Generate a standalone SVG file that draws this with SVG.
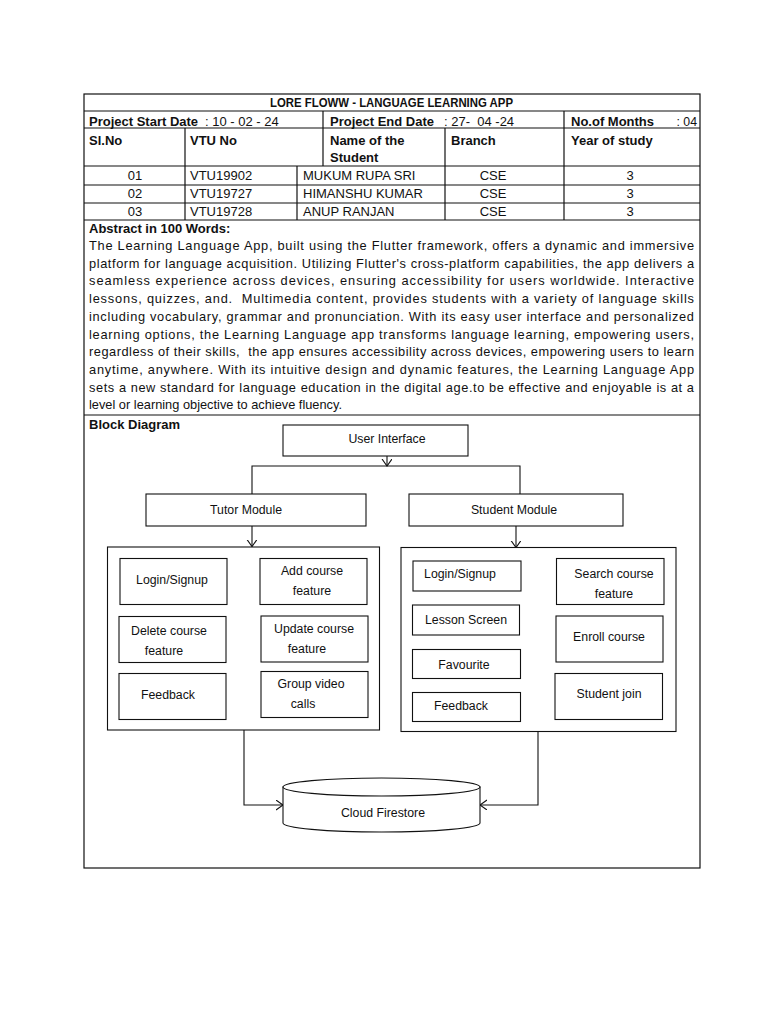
<svg xmlns="http://www.w3.org/2000/svg" width="768" height="1024" viewBox="0 0 768 1024">
<style>
text{font-family:"Liberation Sans",Arial,sans-serif;font-size:13px;fill:#111}
.b{font-weight:bold}
.c{text-anchor:middle}
.ab{font-size:12.8px}
.d{font-size:12.3px}
.tl{stroke:#111;stroke-width:1.2;fill:none}
.bx{stroke:#111;stroke-width:1.1;fill:#fff}
.cn{stroke:#111;stroke-width:1.1;fill:none}
</style>
<defs>
<marker id="ah" markerUnits="userSpaceOnUse" markerWidth="12" markerHeight="12" refX="7" refY="5" orient="auto">
<path d="M0,0 L7,5 L0,10" fill="none" stroke="#111" stroke-width="1.1"/>
</marker>
</defs>
<rect width="768" height="1024" fill="#fff"/>
<g id="table">
<rect class="tl" x="84" y="94" width="616" height="774"/>
<line class="tl" x1="84" y1="111" x2="700" y2="111"/>
<line class="tl" x1="84" y1="128" x2="700" y2="128"/>
<line class="tl" x1="84" y1="166" x2="700" y2="166"/>
<line class="tl" x1="84" y1="185" x2="700" y2="185"/>
<line class="tl" x1="84" y1="203" x2="700" y2="203"/>
<line class="tl" x1="84" y1="220" x2="700" y2="220"/>
<line class="tl" x1="84" y1="415" x2="700" y2="415"/>
<line class="tl" x1="323" y1="111" x2="323" y2="166"/>
<line class="tl" x1="564" y1="111" x2="564" y2="220"/>
<line class="tl" x1="185" y1="128" x2="185" y2="220"/>
<line class="tl" x1="445" y1="128" x2="445" y2="220"/>
<line class="tl" x1="297" y1="166" x2="297" y2="220"/>
<text class="b" x="270" y="106.5" textLength="243" lengthAdjust="spacingAndGlyphs">LORE FLOWW - LANGUAGE LEARNING APP</text>
<text x="89" y="125.5"><tspan class="b">Project Start Date</tspan><tspan x="205">: 10 - 02 - 24</tspan></text>
<text x="330" y="125.5" xml:space="preserve"><tspan class="b">Project End Date</tspan><tspan x="444">: 27-  04 -24</tspan></text>
<text class="b" x="571" y="125.5">No.of Months</text>
<text x="697" y="125.5" style="text-anchor:end;font-size:12.3px">: 04</text>
<text class="b" x="89" y="144.5">Sl.No</text>
<text class="b" x="190" y="144.5">VTU No</text>
<text class="b" x="330" y="144.5">Name of the</text>
<text class="b" x="330" y="162">Student</text>
<text class="b" x="451" y="144.5">Branch</text>
<text class="b" x="571" y="144.5">Year of study</text>
<text class="c" x="135" y="180">01</text>
<text x="190" y="180">VTU19902</text>
<text x="303" y="180">MUKUM RUPA SRI</text>
<text class="c" x="493" y="180">CSE</text>
<text class="c" x="630" y="180">3</text>
<text class="c" x="135" y="198">02</text>
<text x="190" y="198">VTU19727</text>
<text x="303" y="198">HIMANSHU KUMAR</text>
<text class="c" x="493" y="198">CSE</text>
<text class="c" x="630" y="198">3</text>
<text class="c" x="135" y="216">03</text>
<text x="190" y="216">VTU19728</text>
<text x="303" y="216">ANUP RANJAN</text>
<text class="c" x="493" y="216">CSE</text>
<text class="c" x="630" y="216">3</text>
<text class="b" x="89" y="233">Abstract in 100 Words:</text>
<text class="ab" x="89" y="250" textLength="605" lengthAdjust="spacing">The Learning Language App, built using the Flutter framework, offers a dynamic and immersive</text>
<text class="ab" x="89" y="267.7" textLength="605" lengthAdjust="spacing">platform for language acquisition. Utilizing Flutter's cross-platform capabilities, the app delivers a</text>
<text class="ab" x="89" y="285.4" textLength="605" lengthAdjust="spacing">seamless experience across devices, ensuring accessibility for users worldwide. Interactive</text>
<text class="ab" x="89" y="303.1" textLength="605" lengthAdjust="spacing" xml:space="preserve">lessons, quizzes, and.  Multimedia content, provides students with a variety of language skills</text>
<text class="ab" x="89" y="320.8" textLength="605" lengthAdjust="spacing">including vocabulary, grammar and pronunciation. With its easy user interface and personalized</text>
<text class="ab" x="89" y="338.5" textLength="605" lengthAdjust="spacing">learning options, the Learning Language app transforms language learning, empowering users,</text>
<text class="ab" x="89" y="356.2" textLength="605" lengthAdjust="spacing" xml:space="preserve">regardless of their skills,  the app ensures accessibility across devices, empowering users to learn</text>
<text class="ab" x="89" y="373.9" textLength="605" lengthAdjust="spacing">anytime, anywhere. With its intuitive design and dynamic features, the Learning Language App</text>
<text class="ab" x="89" y="391.6" textLength="605" lengthAdjust="spacing">sets a new standard for language education in the digital age.to be effective and enjoyable is at a</text>
<text class="ab" x="89" y="409.3">level or learning objective to achieve fluency.</text>
<text class="b" x="89" y="429">Block Diagram</text>
</g>
<g id="connectors">
<line class="cn" x1="387" y1="456" x2="387" y2="466" marker-end="url(#ah)"/>
<polyline class="cn" points="252,494 252,466 520,466 520,494"/>
<line class="cn" x1="252" y1="526" x2="252" y2="546.5" marker-end="url(#ah)"/>
<line class="cn" x1="516" y1="526" x2="516" y2="547.5" marker-end="url(#ah)"/>
<polyline class="cn" points="244,730 244,805 283,805" marker-end="url(#ah)"/>
<polyline class="cn" points="538,732 538,805 480,805" marker-end="url(#ah)"/>
</g>
<g id="user-interface"><rect class="bx" x="283" y="425" width="185" height="31"/><text class="c d" x="387" y="442.5">User Interface</text></g>
<g id="tutor-module"><rect class="bx" x="146" y="494" width="220" height="32"/><text class="c d" x="246" y="514">Tutor Module</text></g>
<g id="student-module"><rect class="bx" x="409" y="494" width="214" height="32"/><text class="c d" x="514" y="514">Student Module</text></g>
<g id="tutor-container"><rect class="bx" x="107.5" y="547" width="272" height="183"/></g>
<g id="student-container"><rect class="bx" x="401" y="547.5" width="275" height="184"/></g>
<g id="t-login"><rect class="bx" x="120" y="558.5" width="107" height="46"/><text class="c d" x="172" y="583.5">Login/Signup</text></g>
<g id="t-add"><rect class="bx" x="260" y="558.5" width="107" height="46"/><text class="c d" x="312" y="574.5">Add course</text><text class="c d" x="312" y="594.5">feature</text></g>
<g id="t-delete"><rect class="bx" x="119" y="616.5" width="107" height="46"/><text class="c d" x="169" y="635">Delete course</text><text class="c d" x="164" y="654.5">feature</text></g>
<g id="t-update"><rect class="bx" x="261" y="616" width="107" height="46"/><text class="c d" x="314" y="632.5">Update course</text><text class="c d" x="307" y="652.5">feature</text></g>
<g id="t-feedback"><rect class="bx" x="119" y="673.5" width="107" height="46"/><text class="c d" x="168" y="698.5">Feedback</text></g>
<g id="t-group"><rect class="bx" x="261" y="671.5" width="107" height="46"/><text class="c d" x="311" y="687.5">Group video</text><text class="c d" x="303" y="707.5">calls</text></g>
<g id="s-login"><rect class="bx" x="413" y="561" width="108" height="30"/><text class="c d" x="460" y="577.5">Login/Signup</text></g>
<g id="s-search"><rect class="bx" x="556.5" y="558.5" width="107.5" height="46"/><text class="c d" x="614" y="577.5">Search course</text><text class="c d" x="614" y="597.5">feature</text></g>
<g id="s-lesson"><rect class="bx" x="412.5" y="605" width="107" height="30"/><text class="c d" x="466" y="623.5">Lesson Screen</text></g>
<g id="s-enroll"><rect class="bx" x="556" y="616" width="107" height="46"/><text class="c d" x="609" y="641">Enroll course</text></g>
<g id="s-favourite"><rect class="bx" x="412.5" y="649.5" width="108" height="29"/><text class="c d" x="464" y="668.5">Favourite</text></g>
<g id="s-feedback"><rect class="bx" x="412.5" y="692.5" width="108" height="29"/><text class="c d" x="461" y="709.5">Feedback</text></g>
<g id="s-join"><rect class="bx" x="555" y="673.5" width="107.5" height="46"/><text class="c d" x="609" y="698">Student join</text></g>
<g id="cloud-firestore">
<path class="bx" d="M283,787 L283,823 A98.5,9 0 0 0 480,823 L480,787 Z"/>
<ellipse class="bx" cx="381.5" cy="787" rx="98.5" ry="9"/>
<text class="c d" x="383" y="817">Cloud Firestore</text>
</g>
</svg>
